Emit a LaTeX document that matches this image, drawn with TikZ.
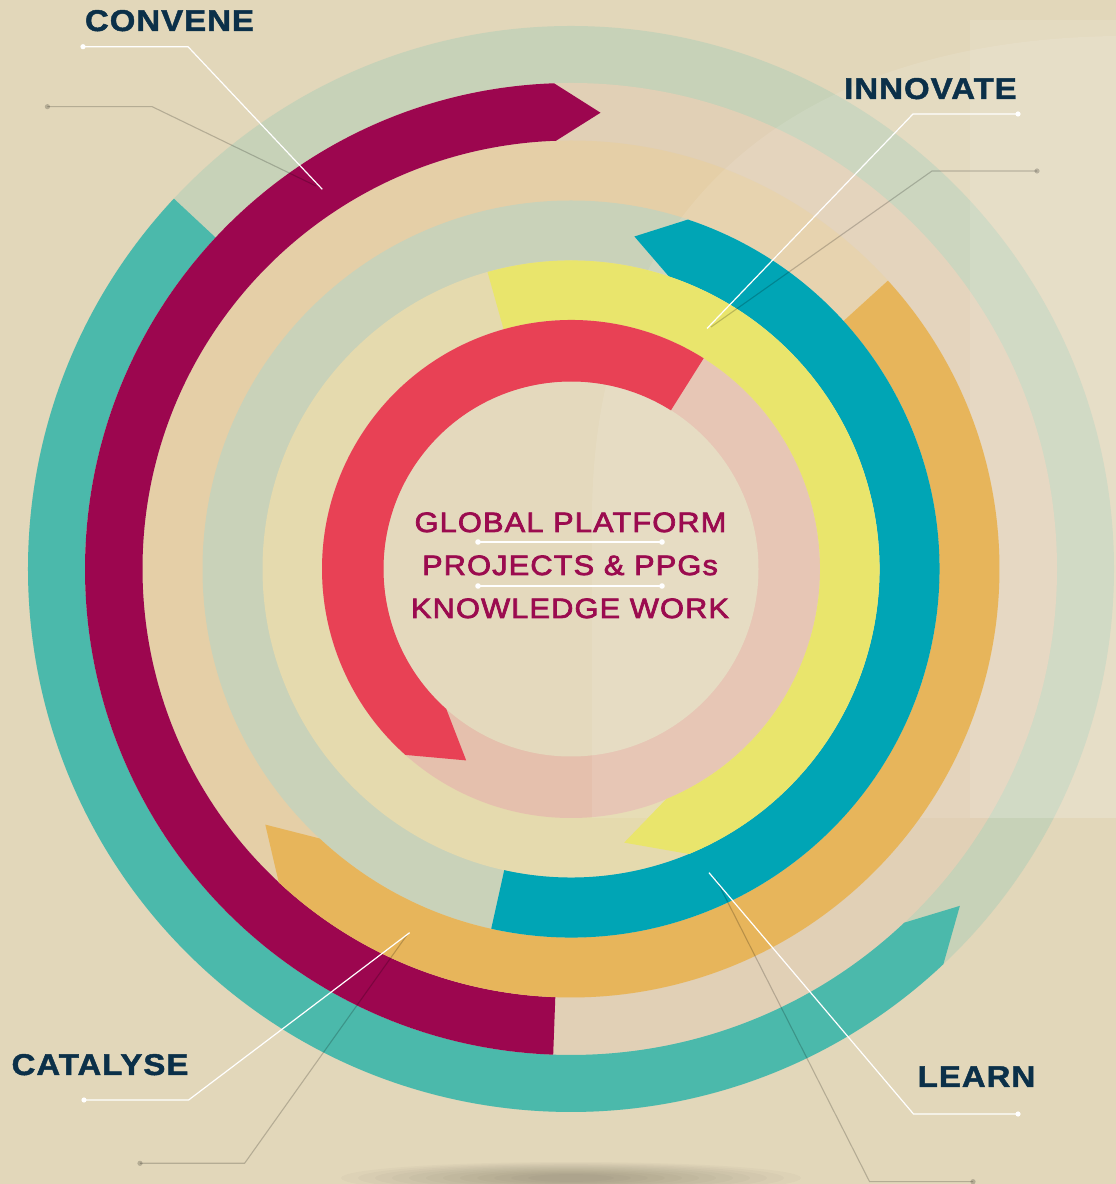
\documentclass[tikz,border=0pt]{standalone}
\usepackage{fontspec}
\setmainfont{Liberation Sans}
\newfontfamily\labelfont{Liberation Sans}[FakeStretch=1.1, LetterSpace=3.3, FakeBold=1.5]
\newfontfamily\centerfont{Liberation Sans}[FakeStretch=1.1, LetterSpace=4, FakeBold=2.5]
\usetikzlibrary{calc}

\definecolor{bg}{HTML}{E2D7BA}
\definecolor{trackA}{HTML}{C7D2B8}
\definecolor{trackB}{HTML}{E1D0B6}
\definecolor{trackC}{HTML}{E5CFA7}
\definecolor{trackD}{HTML}{C9D2B9}
\definecolor{trackE}{HTML}{E5DAAE}
\definecolor{trackF}{HTML}{E5C0AD}
\definecolor{discC}{HTML}{E4D9BD}
\definecolor{cTeal}{HTML}{4BB9AB}
\definecolor{cMag}{HTML}{9C064F}
\definecolor{cOrange}{HTML}{E7B55B}
\definecolor{cBlue}{HTML}{00A5B5}
\definecolor{cYellow}{HTML}{E9E56C}
\definecolor{cRed}{HTML}{E84155}
\definecolor{navy}{HTML}{0B3049}
\definecolor{ctext}{HTML}{9B0B4F}

% band with a straight cut at angle #4, body ending at #5 and a point at #6
\newcommand{\arrowband}[6]{%
  \fill[#1] (#4:#3) arc[start angle=#4, end angle=#5, radius=#3]
    -- ({#6}:{(#2+#3)/2}) -- (#5:#2)
    arc[start angle=#5, end angle=#4, radius=#2] -- cycle;}

\tikzset{
  lab/.style={font=\labelfont\bfseries\fontsize{30}{36}\selectfont, text=navy, inner sep=0pt, anchor=base},
  ctr/.style={font=\centerfont\fontsize{28}{34}\selectfont, text=ctext, inner sep=0pt, anchor=base},
  wline/.style={draw=white, line width=1.2pt},
  gline/.style={draw=black, opacity=0.2, line width=1.1pt},
  sepline/.style={draw=white, line width=1.6pt}
}

\begin{document}
\begin{tikzpicture}[x=1pt,y=1pt]
\useasboundingbox (0,0) rectangle (1116,1184);
\clip (0,0) rectangle (1116,1184);
\fill[bg] (0,0) rectangle (1116,1184);

% floor shadow
\foreach \k in {0,...,11} {
  \fill[black, opacity=0.018] (571,6) ellipse ({230-17*\k} and {16-1.1*\k});
}

% background tracks
\begin{scope}[shift={(571,615)}]
  \fill[trackA] (0,0) circle (543);
  \fill[trackB] (0,0) circle (486);
  \fill[trackC] (0,0) circle (428.5);
  \fill[trackD] (0,0) circle (368.5);
  \fill[trackE] (0,0) circle (308.5);
  \fill[trackF] (0,0) circle (249);
  \fill[discC] (0,0) circle (187.5);
\end{scope}

% light overlays
\fill[white, opacity=0.1] (592,366) -- (592,664) .. controls (592,984) and (800,1144) .. (1116,1148) -- (1116,366) -- cycle;
\fill[white, opacity=0.1] (970,366) rectangle (1116,1164);

% coloured arcs
\begin{scope}[shift={(571,615)}]
  \arrowband{cTeal}{486}{543}{137}{313.3}{319.1}
  \arrowband{cMag}{428.5}{486}{267.9}{92}{86.3}
  \arrowband{cOrange}{368.5}{428.5}{42.3}{-133}{-140.1}
  \arrowband{cBlue}{308.5}{368.5}{257.5}{431.5}{439.2}
  \arrowband{cYellow}{249}{308.5}{105.7}{-67.5}{-79}
  \arrowband{cRed}{187.5}{249}{57.8}{228.3}{241.3}
\end{scope}

% labels
\node[lab] (convene) at (169.5,1153) {CONVENE};
\node[lab] (innovate) at (930.5,1085) {INNOVATE};
\node[lab] (catalyse) at (100,109) {CATALYSE};
\node[lab] (learn) at (976.5,97) {LEARN};

% leader coordinates
\coordinate (cw1) at (83,1137.3);   \coordinate (cw2) at (188,1137.3);   \coordinate (cw3) at (322.3,994.7);
\coordinate (cg1) at (47.4,1077.3); \coordinate (cg2) at (152.2,1077.3); \coordinate (cg3) at (316,998);
\coordinate (iw1) at (1018,1070);   \coordinate (iw2) at (913,1070);     \coordinate (iw3) at (707,855.5);
\coordinate (ig1) at (1037,1013);   \coordinate (ig2) at (932,1013);     \coordinate (ig3) at (711,857);
\coordinate (aw1) at (84,84);       \coordinate (aw2) at (188.6,84);     \coordinate (aw3) at (409.6,251.3);
\coordinate (ag1) at (140,20.7);    \coordinate (ag2) at (244.6,20.7);   \coordinate (ag3) at (407,249);
\coordinate (lw1) at (1018,70);     \coordinate (lw2) at (913.5,70);     \coordinate (lw3) at (709,311.3);
\coordinate (lg1) at (973,2.3);     \coordinate (lg2) at (869.6,2.3);    \coordinate (lg3) at (716,305);

% grey leaders
\draw[gline] (cg1) -- (cg2) -- (cg3);
\draw[gline] (ig1) -- (ig2) -- (ig3);
\draw[gline] (ag1) -- (ag2) -- (ag3);
\draw[gline] (lg1) -- (lg2) -- (lg3);
\foreach \p in {cg1,ig1,ag1,lg1} { \fill[black, opacity=0.2] (\p) circle (2.6); }

% white leaders
\draw[wline] (cw1) -- (cw2) -- (cw3);
\draw[wline] (iw1) -- (iw2) -- (iw3);
\draw[wline] (aw1) -- (aw2) -- (aw3);
\draw[wline] (lw1) -- (lw2) -- (lw3);
\foreach \p in {cw1,iw1,aw1,lw1} { \fill[white] (\p) circle (2.6); }

% centre text
\node[ctr] (global) at (570.5,652) {GLOBAL PLATFORM};
\node[ctr] (projects) at (570,609) {PROJECTS \& PPGs};
\node[ctr] (knowledge) at (570,566) {KNOWLEDGE WORK};

\coordinate (s1a) at (478,642); \coordinate (s1b) at (662,642);
\coordinate (s2a) at (478,598); \coordinate (s2b) at (662,598);
\draw[sepline] (s1a) -- (s1b);
\draw[sepline] (s2a) -- (s2b);
\foreach \p in {s1a,s1b,s2a,s2b} { \fill[white] (\p) circle (2.8); }
\end{tikzpicture}
\end{document}
